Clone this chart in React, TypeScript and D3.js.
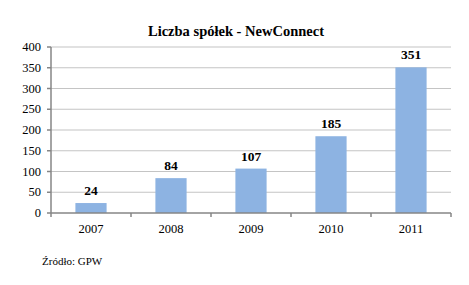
import React from "react";
import * as d3 from "d3";

const categories = ["2007", "2008", "2009", "2010", "2011"];
const values = [24, 84, 107, 185, 351];
const yTicks = [0, 50, 100, 150, 200, 250, 300, 350, 400];
const title = "Liczba spółek - NewConnect";
const source = "Źródło: GPW";

export default function App() {
  const W = 469, H = 285;
  const left = 51, right = 451, top = 47, bottom = 213;
  const x = d3.scaleBand<string>().domain(categories).range([left, right]).paddingInner(0.61).paddingOuter(0.305);
  const xb = d3.scaleBand<string>().domain(categories).range([left, right]);
  const y = d3.scaleLinear().domain([0, 400]).range([bottom, top]);
  const font = "Liberation Serif, Tinos, Times New Roman, Times, DejaVu Serif, serif";
  const tickXs = categories.map((c) => xb(c)!).concat([right]);
  return (
    <svg width={W} height={H} style={{ position: "absolute", left: 0, top: 0, background: "#fff" }}>
      <rect width={W} height={H} fill="#fff" />
      <text x={236} y={36} textAnchor="middle" style={{ fontFamily: font }} fontWeight="bold" fontSize={14.5}>{title}</text>
      {yTicks.filter((t) => t > 0).map((t) => (
        <line key={t} x1={left} x2={right} y1={y(t)} y2={y(t)} stroke="#c4c4c4" strokeWidth={1.2} />
      ))}
      {categories.map((c, i) => (
        <rect key={c} x={x(c)} y={y(values[i])} width={x.bandwidth()} height={bottom - y(values[i])} fill="#8DB3E2" />
      ))}
      <line x1={left} x2={left} y1={top} y2={bottom} stroke="#868686" strokeWidth={1.5} />
      {yTicks.map((t) => (
        <g key={t}>
          <line x1={left - 4} x2={left} y1={y(t)} y2={y(t)} stroke="#868686" strokeWidth={1.5} />
          <text x={41} y={y(t) + 4} textAnchor="end" style={{ fontFamily: font }} fontSize={12.5}>{t}</text>
        </g>
      ))}
      <line x1={left} x2={right} y1={bottom} y2={bottom} stroke="#868686" strokeWidth={1.5} />
      {tickXs.map((tx, i) => (
        <line key={i} x1={tx} x2={tx} y1={bottom} y2={bottom + 4} stroke="#868686" strokeWidth={1.5} />
      ))}
      {categories.map((c) => (
        <text key={c} x={xb(c)! + xb.bandwidth() / 2} y={233} textAnchor="middle" style={{ fontFamily: font }} fontSize={12.5}>{c}</text>
      ))}
      {categories.map((c, i) => (
        <text key={c} x={x(c)! + x.bandwidth() / 2} y={y(values[i]) - 8} textAnchor="middle" style={{ fontFamily: font }} fontWeight="bold" fontSize={13.5}>{values[i]}</text>
      ))}
      <text x={42} y={265} style={{ fontFamily: font }} fontSize={11}>{source}</text>
    </svg>
  );
}
